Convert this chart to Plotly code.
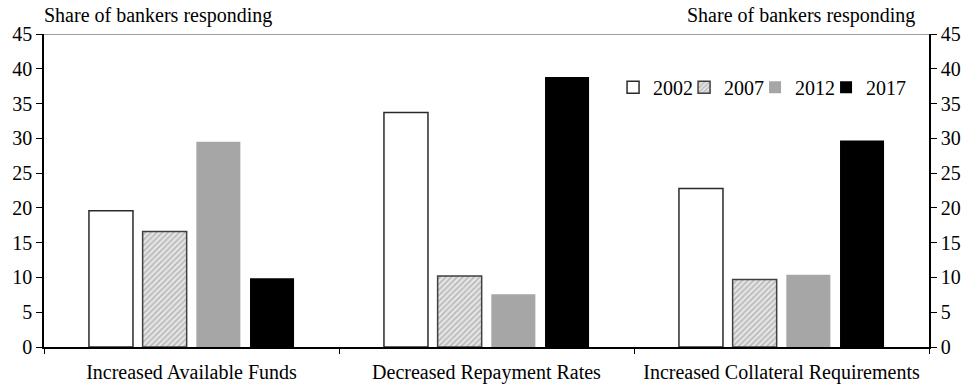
import plotly.graph_objects as go

categories = ["Increased Available Funds", "Decreased Repayment Rates", "Increased Collateral Requirements"]
years = ["2002", "2007", "2012", "2017"]
v2002 = [19.6, 33.7, 22.8]
v2007 = [16.6, 10.2, 9.7]
v2012 = [29.5, 7.6, 10.4]
v2017 = [9.9, 38.8, 29.7]
yticks = [0, 5, 10, 15, 20, 25, 30, 35, 40, 45]

FONT = "Liberation Serif"
FS = 20

fig = go.Figure()
fig.add_trace(go.Bar(name=years[0], x=categories, y=v2002,
                     marker=dict(color="white", line=dict(color="#2a2a2a", width=1.5))))
fig.add_trace(go.Bar(name=years[1], x=categories, y=v2007,
                     marker=dict(color="#d9d9d9", line=dict(color="#404040", width=1.5),
                                 pattern=dict(shape="/", fgcolor="#8c8c8c", bgcolor="#e6e6e6",
                                              size=4, solidity=0.45))))
fig.add_trace(go.Bar(name=years[2], x=categories, y=v2012,
                     marker=dict(color="#a6a6a6", line=dict(width=0))))
fig.add_trace(go.Bar(name=years[3], x=categories, y=v2017,
                     marker=dict(color="black", line=dict(width=0))))
# invisible trace for right axis (also pads the legend so the last label is not clipped)
fig.add_trace(go.Scatter(x=[categories[0]], y=[0], yaxis="y2", showlegend=True, name=" ",
                         mode="markers",
                         marker=dict(color="rgba(0,0,0,0)", size=1,
                                     line=dict(width=0, color="rgba(0,0,0,0)")),
                         hoverinfo="skip"))

fig.update_layout(
    width=969, height=385,
    margin=dict(l=44, r=40, t=34, b=38, autoexpand=False),
    paper_bgcolor="white", plot_bgcolor="white",
    font=dict(family=FONT, color="black", size=FS),
    barmode="group", bargap=0.272, bargroupgap=0.18,
    showlegend=True,
    legend=dict(orientation="h", x=0.643, y=0.83, xanchor="left", yanchor="middle",
                font=dict(size=FS, family=FONT), bgcolor="rgba(0,0,0,0)",
                itemwidth=30, tracegroupgap=0, entrywidth=26, entrywidthmode="pixels"),
    xaxis=dict(showline=True, linecolor="black", linewidth=1.5,
               tickson="boundaries", ticks="outside", ticklen=5, tickcolor="black",
               ticklabelstandoff=6,
               tickfont=dict(size=FS, family=FONT), showgrid=False),
    yaxis=dict(range=[0, 45], tickvals=yticks, showline=True, linecolor="black", linewidth=1.5,
               ticks="outside", ticklen=6, tickcolor="black", showgrid=False, zeroline=False,
               tickfont=dict(size=FS, family=FONT)),
    yaxis2=dict(range=[0, 45], tickvals=yticks, overlaying="y", side="right",
                showline=True, linecolor="black", linewidth=1.5,
                ticks="outside", ticklen=6, tickcolor="black", showgrid=False, zeroline=False,
                tickfont=dict(size=FS, family=FONT)),
    shapes=[dict(type="line", xref="paper", yref="y", x0=0, x1=1, y0=45, y1=45,
                 line=dict(color="#7f7f7f", width=1.5))],
    annotations=[
        dict(text="Share of bankers responding", xref="paper", yref="paper",
             x=-0.002, y=1.0, xanchor="left", yanchor="bottom", yshift=5,
             showarrow=False, font=dict(size=FS, family=FONT)),
        dict(text="Share of bankers responding", xref="paper", yref="paper",
             x=0.986, y=1.0, xanchor="right", yanchor="bottom", yshift=5,
             showarrow=False, font=dict(size=FS, family=FONT)),
    ],
)

fig.write_html("out.html", config={"displayModeBar": False},
               post_script="document.body.style.margin='0';document.body.style.overflow='hidden';")
